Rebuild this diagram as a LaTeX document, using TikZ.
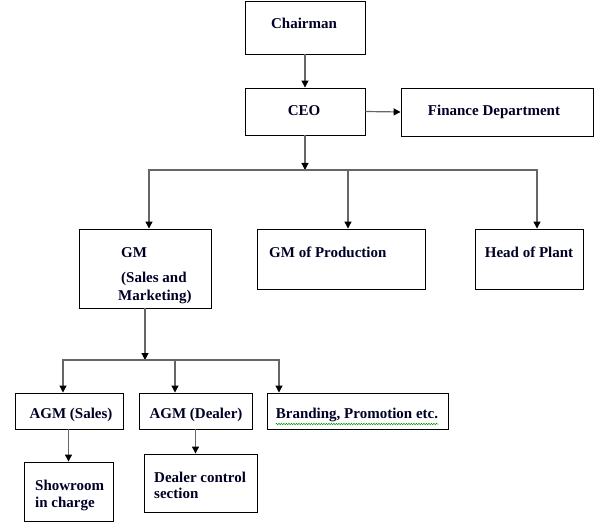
\documentclass[tikz,border=0pt]{standalone}
\usepackage{fontspec}
\setmainfont{Liberation Serif}
\usetikzlibrary{arrows.meta,decorations.pathmorphing}
\begin{document}
\begin{tikzpicture}[x=1pt,y=-1pt,
  box/.style={draw=black, line width=0.9pt, inner sep=0pt, fill=white},
  txt/.style={inner sep=0pt, font=\fontsize{15}{17}\selectfont\bfseries, text=black!85!blue},
  arr/.style={draw=black!60, line width=1.2pt, -{Triangle[black,length=7pt,width=7pt]}},
  ln/.style={draw=black!60, line width=1.2pt}]
\useasboundingbox (0,0) rectangle (597,524);
\fill[white] (0,0) rectangle (597,524);
% boxes
\node[box, minimum width=120pt, minimum height=53pt] (chair) at (305,27.5) {};
\node[box, minimum width=120pt, minimum height=47pt] (ceo) at (305,111.5) {};
\node[box, minimum width=192pt, minimum height=48pt] (fin) at (497,112) {};
\node[box, minimum width=132pt, minimum height=79pt] (gm) at (145,268.5) {};
\node[box, minimum width=168pt, minimum height=60pt] (prod) at (341,259) {};
\node[box, minimum width=108pt, minimum height=60pt] (plant) at (529,259) {};
\node[box, minimum width=108pt, minimum height=36pt] (agms) at (69,411) {};
\node[box, minimum width=113pt, minimum height=36pt] (agmd) at (195.5,411) {};
\node[box, minimum width=181pt, minimum height=36pt] (brand) at (357.5,411) {};
\node[box, minimum width=89pt, minimum height=59pt] (show) at (68.5,491.5) {};
\node[box, minimum width=113pt, minimum height=58pt] (dealer) at (200.5,483) {};
% texts
\node[txt, anchor=base] (tchair) at (304,29) {Chairman};
\node[txt, anchor=base] (tceo) at (304,116) {CEO};
\node[txt, anchor=base] (tfin) at (494,116) {Finance Department};
\node[txt, anchor=base west] (tgm1) at (121,257) {GM};
\node[txt, anchor=base west] (tgm2) at (121,282) {(Sales and};
\node[txt, anchor=base west] (tgm3) at (118,300) {Marketing)};
\node[txt, anchor=base west] (tprod) at (269,257) {GM of Production};
\node[txt, anchor=base] (tplant) at (529,257) {Head of Plant};
\node[txt, anchor=base] (tagms) at (71,418) {AGM (Sales)};
\node[txt, anchor=base] (tagmd) at (196,418) {AGM (Dealer)};
\node[txt, anchor=base] (tbrand) at (357,418) {Branding, Promotion etc.};
\node[txt, anchor=base west] (tshow1) at (35,490) {Showroom};
\node[txt, anchor=base west] (tshow2) at (35,507) {in charge};
\node[txt, anchor=base west] (tdeal1) at (154,482) {Dealer control};
\node[txt, anchor=base west] (tdeal2) at (154,498) {section};
\draw[green!60!black, line width=0.5pt, decorate, decoration={snake, amplitude=0.7pt, segment length=2.5pt}] ([yshift=-6pt]tbrand.base west) -- ([yshift=-6pt]tbrand.base east);
% connectors
\coordinate (b1) at (305,170);
\coordinate (b2) at (145,360);
\draw[arr] (chair.south) -- (ceo.north);
\draw[arr] (ceo.east) -- (fin.west);
\draw[arr] (ceo.south) -- (b1);
\draw[arr] (b1) -| ([xshift=4pt]gm.north);
\draw[arr] (b1) -| ([xshift=7pt]prod.north);
\draw[arr] (b1) -| ([xshift=8pt]plant.north);
\draw[arr] (gm.south) -- (b2);
\draw[arr] (b2) -| ([xshift=-6pt]agms.north);
\draw[arr] (b2) -| ([xshift=-20.5pt]agmd.north);
\draw[arr] (b2) -| ([xshift=-78.5pt]brand.north);
\draw[arr] (show.north |- agms.south) -- (show.north);
\draw[arr] (agmd.south) -- (agmd.south |- dealer.north);
\end{tikzpicture}
\end{document}
